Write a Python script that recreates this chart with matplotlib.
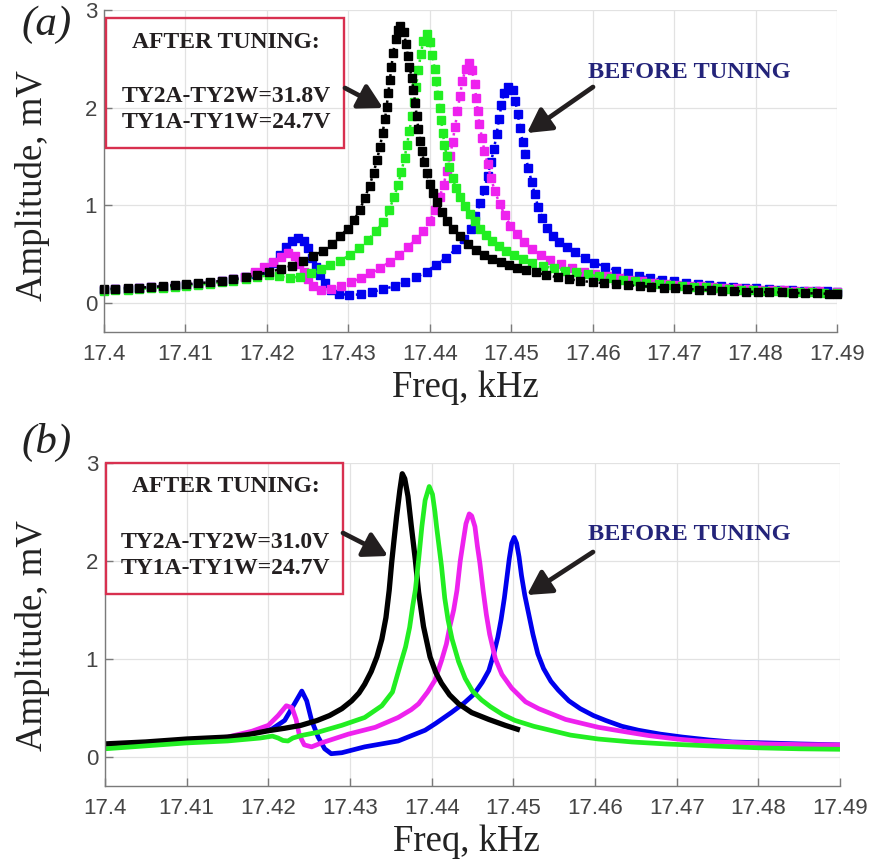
import numpy as np
import matplotlib
matplotlib.use('Agg')
import matplotlib.pyplot as plt
from matplotlib.patches import Rectangle, FancyArrowPatch

# ---- data: (freq kHz, amplitude mV) ----
xticks = [17.4, 17.41, 17.42, 17.43, 17.44, 17.45, 17.46, 17.47, 17.48, 17.49]
xtick_labels = ['17.4', '17.41', '17.42', '17.43', '17.44', '17.45', '17.46', '17.47', '17.48', '17.49']
yticks = [0, 1, 2, 3]

# panel (a): measured points (square markers)
black_a = [
    (17.4000, 0.140), (17.4014, 0.145), (17.4029, 0.150), (17.4043, 0.155), (17.4058, 0.160), (17.4072, 0.170),
    (17.4087, 0.180), (17.4101, 0.190), (17.4116, 0.200), (17.4130, 0.210), (17.4145, 0.225), (17.4159, 0.240),
    (17.4174, 0.260), (17.4188, 0.285), (17.4203, 0.315), (17.4217, 0.345), (17.4231, 0.380), (17.4244, 0.425),
    (17.4257, 0.475), (17.4269, 0.535), (17.4280, 0.600), (17.4290, 0.680), (17.4299, 0.760), (17.4307, 0.850),
    (17.4314, 0.950), (17.4320, 1.070), (17.4326, 1.200), (17.4331, 1.330), (17.4335, 1.460), (17.4339, 1.600),
    (17.4342, 1.740), (17.4345, 1.880), (17.4347, 2.010), (17.4349, 2.150), (17.4351, 2.280), (17.4353, 2.420),
    (17.4355, 2.560), (17.4358, 2.700), (17.4361, 2.800), (17.4364, 2.840), (17.4368, 2.770), (17.4371, 2.650),
    (17.4373, 2.530), (17.4375, 2.420), (17.4378, 2.300), (17.4380, 2.180), (17.4382, 2.050), (17.4384, 1.910),
    (17.4386, 1.780), (17.4388, 1.660), (17.4390, 1.560), (17.4393, 1.440), (17.4396, 1.330), (17.4400, 1.220),
    (17.4404, 1.120), (17.4409, 1.030), (17.4415, 0.930), (17.4421, 0.840), (17.4428, 0.760), (17.4437, 0.680),
    (17.4447, 0.600), (17.4457, 0.540), (17.4467, 0.490), (17.4477, 0.450), (17.4487, 0.420), (17.4497, 0.390),
    (17.4507, 0.360), (17.4518, 0.335), (17.4530, 0.310), (17.4543, 0.285), (17.4557, 0.260), (17.4571, 0.240),
    (17.4585, 0.225), (17.4600, 0.210), (17.4614, 0.200), (17.4629, 0.190), (17.4643, 0.180), (17.4658, 0.170),
    (17.4672, 0.165), (17.4687, 0.155), (17.4701, 0.150), (17.4716, 0.140), (17.4730, 0.135), (17.4745, 0.130),
    (17.4759, 0.125), (17.4774, 0.120), (17.4788, 0.115), (17.4803, 0.110), (17.4817, 0.108), (17.4832, 0.105),
    (17.4846, 0.100), (17.4861, 0.098), (17.4875, 0.095), (17.4890, 0.092), (17.4900, 0.090),
]
green_a = [
    (17.4000, 0.125), (17.4014, 0.130), (17.4029, 0.135), (17.4043, 0.140), (17.4058, 0.150), (17.4072, 0.155),
    (17.4087, 0.165), (17.4101, 0.175), (17.4116, 0.185), (17.4130, 0.195), (17.4145, 0.210), (17.4159, 0.225),
    (17.4174, 0.245), (17.4188, 0.265), (17.4202, 0.280), (17.4215, 0.270), (17.4228, 0.255), (17.4241, 0.265),
    (17.4254, 0.300), (17.4266, 0.345), (17.4278, 0.385), (17.4290, 0.430), (17.4302, 0.490), (17.4313, 0.560),
    (17.4324, 0.645), (17.4334, 0.730), (17.4343, 0.830), (17.4350, 0.950), (17.4356, 1.080), (17.4361, 1.210),
    (17.4365, 1.340), (17.4369, 1.480), (17.4372, 1.620), (17.4375, 1.760), (17.4378, 1.910), (17.4381, 2.060),
    (17.4383, 2.210), (17.4386, 2.380), (17.4389, 2.550), (17.4392, 2.680), (17.4396, 2.750), (17.4400, 2.670),
    (17.4403, 2.540), (17.4406, 2.400), (17.4408, 2.270), (17.4410, 2.130), (17.4412, 2.000), (17.4414, 1.870),
    (17.4416, 1.740), (17.4418, 1.620), (17.4421, 1.500), (17.4424, 1.390), (17.4428, 1.280), (17.4432, 1.180),
    (17.4437, 1.080), (17.4443, 0.990), (17.4449, 0.910), (17.4455, 0.840), (17.4462, 0.760), (17.4469, 0.690),
    (17.4477, 0.630), (17.4485, 0.580), (17.4494, 0.530), (17.4504, 0.490), (17.4514, 0.450), (17.4526, 0.410),
    (17.4539, 0.375), (17.4552, 0.355), (17.4566, 0.330), (17.4580, 0.310), (17.4594, 0.290), (17.4608, 0.270),
    (17.4623, 0.250), (17.4637, 0.235), (17.4652, 0.220), (17.4666, 0.205), (17.4681, 0.195), (17.4695, 0.180),
    (17.4710, 0.175), (17.4724, 0.165), (17.4739, 0.160), (17.4753, 0.150), (17.4768, 0.145), (17.4782, 0.135),
    (17.4797, 0.130), (17.4811, 0.125), (17.4826, 0.120), (17.4840, 0.115), (17.4855, 0.110), (17.4869, 0.105),
    (17.4884, 0.100), (17.4900, 0.095),
]
magenta_a = [
    (17.4000, 0.135), (17.4014, 0.140), (17.4029, 0.145), (17.4043, 0.150), (17.4058, 0.160), (17.4072, 0.165),
    (17.4087, 0.175), (17.4101, 0.185), (17.4116, 0.195), (17.4130, 0.205), (17.4145, 0.220), (17.4159, 0.240),
    (17.4173, 0.265), (17.4186, 0.310), (17.4197, 0.370), (17.4207, 0.420), (17.4217, 0.470), (17.4226, 0.505),
    (17.4234, 0.480), (17.4240, 0.400), (17.4245, 0.320), (17.4250, 0.240), (17.4257, 0.170), (17.4267, 0.135),
    (17.4279, 0.140), (17.4291, 0.170), (17.4303, 0.210), (17.4315, 0.250), (17.4327, 0.300), (17.4339, 0.355),
    (17.4351, 0.420), (17.4362, 0.490), (17.4373, 0.570), (17.4383, 0.650), (17.4392, 0.740), (17.4400, 0.840),
    (17.4407, 0.950), (17.4412, 1.080), (17.4417, 1.210), (17.4421, 1.350), (17.4425, 1.500), (17.4428, 1.650),
    (17.4431, 1.800), (17.4434, 1.960), (17.4437, 2.120), (17.4440, 2.270), (17.4444, 2.400), (17.4448, 2.460),
    (17.4452, 2.380), (17.4455, 2.240), (17.4457, 2.100), (17.4459, 1.960), (17.4461, 1.830), (17.4464, 1.690),
    (17.4467, 1.560), (17.4471, 1.420), (17.4475, 1.280), (17.4480, 1.140), (17.4486, 1.010), (17.4492, 0.900),
    (17.4499, 0.790), (17.4507, 0.700), (17.4516, 0.620), (17.4526, 0.550), (17.4537, 0.490), (17.4548, 0.440),
    (17.4561, 0.395), (17.4575, 0.355), (17.4589, 0.320), (17.4603, 0.295), (17.4617, 0.270), (17.4632, 0.250),
    (17.4646, 0.235), (17.4661, 0.220), (17.4675, 0.205), (17.4690, 0.195), (17.4704, 0.185), (17.4719, 0.175),
    (17.4733, 0.168), (17.4748, 0.160), (17.4762, 0.152), (17.4777, 0.146), (17.4791, 0.140), (17.4806, 0.135),
    (17.4820, 0.130), (17.4835, 0.127), (17.4849, 0.124), (17.4864, 0.120), (17.4878, 0.118), (17.4900, 0.115),
]
blue_a = [
    (17.4000, 0.135), (17.4014, 0.140), (17.4029, 0.145), (17.4043, 0.150), (17.4058, 0.160), (17.4072, 0.165),
    (17.4087, 0.175), (17.4101, 0.185), (17.4116, 0.195), (17.4130, 0.205), (17.4145, 0.220), (17.4159, 0.240),
    (17.4173, 0.260), (17.4186, 0.290), (17.4198, 0.340), (17.4208, 0.410), (17.4216, 0.490), (17.4224, 0.570),
    (17.4231, 0.630), (17.4238, 0.665), (17.4245, 0.630), (17.4251, 0.560), (17.4255, 0.460), (17.4260, 0.370),
    (17.4265, 0.280), (17.4271, 0.200), (17.4279, 0.130), (17.4289, 0.090), (17.4301, 0.080), (17.4315, 0.085),
    (17.4329, 0.110), (17.4343, 0.140), (17.4357, 0.170), (17.4370, 0.210), (17.4383, 0.260), (17.4396, 0.320),
    (17.4408, 0.390), (17.4420, 0.460), (17.4432, 0.550), (17.4442, 0.650), (17.4450, 0.760), (17.4456, 0.890),
    (17.4462, 1.020), (17.4467, 1.160), (17.4471, 1.300), (17.4475, 1.440), (17.4479, 1.580), (17.4482, 1.730),
    (17.4485, 1.880), (17.4488, 2.030), (17.4491, 2.150), (17.4496, 2.210), (17.4502, 2.180), (17.4505, 2.070),
    (17.4508, 1.930), (17.4511, 1.790), (17.4514, 1.650), (17.4517, 1.520), (17.4521, 1.380), (17.4525, 1.240),
    (17.4529, 1.110), (17.4533, 0.980), (17.4538, 0.870), (17.4544, 0.770), (17.4551, 0.680), (17.4559, 0.620),
    (17.4568, 0.570), (17.4578, 0.520), (17.4590, 0.460), (17.4602, 0.410), (17.4615, 0.370), (17.4629, 0.330),
    (17.4643, 0.300), (17.4657, 0.275), (17.4671, 0.255), (17.4685, 0.235), (17.4700, 0.220), (17.4714, 0.205),
    (17.4729, 0.190), (17.4743, 0.180), (17.4758, 0.170), (17.4772, 0.163), (17.4787, 0.155), (17.4801, 0.148),
    (17.4816, 0.140), (17.4830, 0.135), (17.4845, 0.130), (17.4859, 0.125), (17.4874, 0.120), (17.4888, 0.117),
    (17.4900, 0.115),
]

# panel (b): continuous sweeps
black_b = [
    (17.4000, 0.130), (17.4025, 0.140), (17.4050, 0.150), (17.4075, 0.165), (17.4100, 0.180), (17.4125, 0.190),
    (17.4150, 0.200), (17.4175, 0.225), (17.4200, 0.265), (17.4220, 0.290), (17.4240, 0.320), (17.4260, 0.370),
    (17.4275, 0.420), (17.4290, 0.490), (17.4302, 0.570), (17.4311, 0.650), (17.4318, 0.740), (17.4326, 0.870),
    (17.4333, 1.020), (17.4339, 1.200), (17.4344, 1.420), (17.4348, 1.700), (17.4351, 1.980), (17.4354, 2.220),
    (17.4357, 2.450), (17.4361, 2.720), (17.4364, 2.890), (17.4367, 2.840), (17.4371, 2.660), (17.4375, 2.360),
    (17.4380, 2.010), (17.4384, 1.680), (17.4390, 1.330), (17.4398, 1.020), (17.4405, 0.860), (17.4412, 0.750),
    (17.4422, 0.630), (17.4433, 0.540), (17.4449, 0.450), (17.4470, 0.380), (17.4490, 0.320), (17.4505, 0.280),
]
green_b = [
    (17.4000, 0.080), (17.4050, 0.110), (17.4100, 0.140), (17.4150, 0.160), (17.4190, 0.190), (17.4205, 0.210),
    (17.4212, 0.190), (17.4218, 0.165), (17.4224, 0.160), (17.4230, 0.190), (17.4240, 0.215), (17.4261, 0.250),
    (17.4290, 0.320), (17.4318, 0.400), (17.4339, 0.520), (17.4352, 0.660), (17.4362, 0.950), (17.4368, 1.120),
    (17.4373, 1.320), (17.4377, 1.550), (17.4380, 1.700), (17.4384, 2.010), (17.4388, 2.350), (17.4392, 2.620),
    (17.4397, 2.760), (17.4401, 2.680), (17.4404, 2.500), (17.4406, 2.350), (17.4409, 2.150), (17.4412, 1.950),
    (17.4416, 1.620), (17.4420, 1.400), (17.4425, 1.200), (17.4433, 0.970), (17.4441, 0.800), (17.4450, 0.670),
    (17.4461, 0.580), (17.4472, 0.510), (17.4487, 0.430), (17.4502, 0.370), (17.4525, 0.310), (17.4545, 0.270),
    (17.4570, 0.220), (17.4604, 0.180), (17.4645, 0.150), (17.4686, 0.130), (17.4740, 0.110), (17.4800, 0.090),
    (17.4850, 0.080), (17.4900, 0.075),
]
magenta_b = [
    (17.4000, 0.100), (17.4050, 0.130), (17.4100, 0.160), (17.4150, 0.200), (17.4180, 0.260), (17.4200, 0.320),
    (17.4212, 0.420), (17.4222, 0.520), (17.4229, 0.500), (17.4234, 0.380), (17.4238, 0.220), (17.4244, 0.120),
    (17.4253, 0.100), (17.4265, 0.140), (17.4298, 0.230), (17.4331, 0.300), (17.4359, 0.400), (17.4375, 0.480),
    (17.4384, 0.540), (17.4395, 0.660), (17.4404, 0.780), (17.4412, 0.980), (17.4418, 1.150), (17.4422, 1.320),
    (17.4427, 1.500), (17.4431, 1.700), (17.4435, 2.000), (17.4439, 2.220), (17.4442, 2.380), (17.4446, 2.480),
    (17.4449, 2.460), (17.4453, 2.350), (17.4456, 2.150), (17.4459, 1.980), (17.4463, 1.700), (17.4467, 1.450),
    (17.4471, 1.250), (17.4478, 1.000), (17.4486, 0.840), (17.4498, 0.700), (17.4515, 0.560), (17.4531, 0.490),
    (17.4564, 0.380), (17.4604, 0.300), (17.4640, 0.250), (17.4666, 0.215), (17.4700, 0.180), (17.4727, 0.160),
    (17.4770, 0.145), (17.4809, 0.130), (17.4860, 0.122), (17.4900, 0.120),
]
blue_b = [
    (17.4000, 0.100), (17.4050, 0.130), (17.4100, 0.160), (17.4150, 0.190), (17.4204, 0.280), (17.4220, 0.370),
    (17.4232, 0.540), (17.4241, 0.670), (17.4247, 0.570), (17.4253, 0.370), (17.4261, 0.200), (17.4269, 0.080),
    (17.4277, 0.030), (17.4290, 0.040), (17.4318, 0.100), (17.4359, 0.160), (17.4392, 0.270), (17.4405, 0.340),
    (17.4424, 0.450), (17.4440, 0.550), (17.4452, 0.640), (17.4462, 0.760), (17.4470, 0.880), (17.4476, 1.050),
    (17.4481, 1.220), (17.4485, 1.400), (17.4489, 1.620), (17.4492, 1.820), (17.4495, 2.020), (17.4498, 2.180),
    (17.4501, 2.240), (17.4504, 2.180), (17.4507, 2.040), (17.4510, 1.850), (17.4514, 1.650), (17.4519, 1.450),
    (17.4524, 1.250), (17.4530, 1.050), (17.4537, 0.900), (17.4546, 0.770), (17.4555, 0.680), (17.4568, 0.570),
    (17.4582, 0.490), (17.4598, 0.420), (17.4613, 0.370), (17.4633, 0.310), (17.4653, 0.270), (17.4680, 0.230),
    (17.4707, 0.200), (17.4740, 0.170), (17.4768, 0.150), (17.4810, 0.140), (17.4850, 0.130), (17.4900, 0.120),
]

BLUE, MAGENTA, GREEN, BLACK = '#0000ee', '#ee22ee', '#22ee22', '#000000'
SERIF = 'Liberation Serif'
SANS = 'Liberation Sans'
W, H = 870, 867


def fx(px):
    return px / W


def fy(py):
    return 1 - py / H


fig = plt.figure(figsize=(8.7, 8.67), dpi=100)
ax_a = fig.add_axes([fx(104), fy(332), (837 - 104) / W, (332 - 10) / H])
ax_b = fig.add_axes([fx(105), fy(786), (840 - 105) / W, (786 - 463) / H])

for ax in (ax_a, ax_b):
    ax.set_xlim(17.4, 17.49)
    ax.set_ylim(-0.3, 3)
    ax.set_xticks(xticks)
    ax.set_xticklabels(xtick_labels)
    ax.set_yticks(yticks)
    ax.grid(True, color='#e2e2e2', lw=0.9)
    ax.set_axisbelow(True)
    ax.spines['top'].set_visible(False)
    ax.spines['right'].set_visible(False)
    for s in ('left', 'bottom'):
        ax.spines[s].set_color('#7a7a7a')
        ax.spines[s].set_linewidth(1.0)
    ax.tick_params(direction='in', length=6, width=1, color='#7a7a7a',
                   labelsize=16, labelcolor='#444444')
    ax.tick_params(axis='x', pad=9)
    ax.tick_params(axis='y', pad=5)
    for lbl in ax.get_xticklabels() + ax.get_yticklabels():
        lbl.set_fontfamily(SANS)

# panel (a) dotted + square markers
for data, col in ((blue_a, BLUE), (magenta_a, MAGENTA), (green_a, GREEN), (black_a, BLACK)):
    f, a = np.array(data).T
    ax_a.plot(f, a, ls=':', lw=1.8, color=col, marker='s', ms=6.3, mec=col, mfc=col, clip_on=False)

# panel (b) solid lines
for data, col, lw in ((blue_b, BLUE, 3.4), (magenta_b, MAGENTA, 3.4), (black_b, BLACK, 3.8), (green_b, GREEN, 3.4)):
    f, a = np.array(data).T
    ax_b.plot(f, a, '-', lw=lw, color=col, solid_joinstyle='round')

# axis labels and panel tags
for yc in (186, 636):
    fig.text(fx(33), fy(yc), 'Amplitude, mV', rotation=90, ha='center', va='center',
             fontsize=26.5, family=SERIF, color='#222222')
fig.text(fx(465), fy(388), 'Freq, kHz', ha='center', va='center', fontsize=26.5, family=SERIF, color='#222222')
fig.text(fx(466), fy(842), 'Freq, kHz', ha='center', va='center', fontsize=26.5, family=SERIF, color='#222222')
fig.text(fx(47), fy(25), '(a)', ha='center', va='center', fontsize=31, family=SERIF, style='italic', color='#222222')
fig.text(fx(47), fy(442), '(b)', ha='center', va='center', fontsize=31, family=SERIF, style='italic', color='#222222')

# annotation boxes
boxes = [((106, 18, 344, 148), '31.8V', (43, 97, 122)), ((106, 463, 343, 594), '31.0V', (487, 542, 568))]
for (x0, y0, x1, y1), v2, (t0, t1, t2) in boxes:
    fig.add_artist(Rectangle((fx(x0), fy(y1)), (x1 - x0) / W, (y1 - y0) / H, transform=fig.transFigure,
                             fill=False, edgecolor='#d8304f', lw=1.7))
    xc = fx((x0 + x1) / 2 + 1)
    kw = dict(ha='center', va='center', fontsize=17, family=SERIF, weight='bold', color='#231f20')
    fig.text(xc, fy(t0), 'AFTER TUNING:', **kw)
    fig.text(xc, fy(t1), 'TY2A-TY2W=' + v2, **kw)
    fig.text(xc, fy(t2), 'TY1A-TY1W=24.7V', **kw)

for yc in (72, 535):
    fig.text(fx(689), fy(yc), 'BEFORE TUNING', ha='center', va='center', fontsize=17.5,
             family=SERIF, weight='bold', color='#24247a')

# arrows (figure pixels)
arrows = [((345, 88), (383, 108)), ((593, 87), (527, 133)),
          ((343, 533), (388, 556)), ((593, 552), (527, 595))]
for (x0, y0), (x1, y1) in arrows:
    fig.add_artist(FancyArrowPatch(
        (fx(x0), fy(y0)), (fx(x1), fy(y1)), transform=fig.transFigure,
        arrowstyle='-|>,head_length=0.9,head_width=0.5', mutation_scale=16,
        lw=3.4, color='#231f20', shrinkA=0, shrinkB=0))

fig.savefig('out.png', dpi=100)
